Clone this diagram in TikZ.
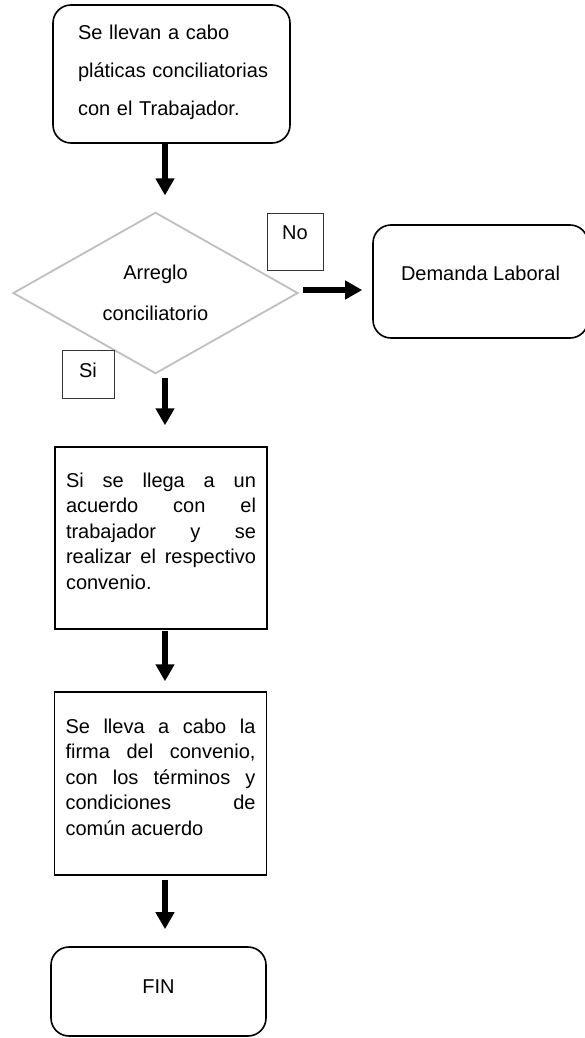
\documentclass[tikz,border=0pt]{standalone}
\usepackage{fontspec}
\setmainfont{Liberation Sans}
\usetikzlibrary{shapes.geometric,arrows.meta}

\begin{document}
\begin{tikzpicture}[
            x=1pt, y=-1pt,
            every node/.style={font=\fontsize{20}{25.5}\selectfont},
            round_box/.style={rectangle, rounded corners=18pt, draw, line width=1.6pt, inner sep=0pt, minimum width=215pt},
            text_box/.style={rectangle, draw, line width=1.4pt, inner xsep=11pt, inner ysep=0pt, text width=190pt, align=justify},
            decision/.style={diamond, draw=gray!50, line width=1.8pt, minimum width=285pt, minimum height=160pt, inner sep=0pt, align=center, font=\fontsize{20}{41}\selectfont},
            answer_box/.style={rectangle, draw=black!80, line width=0.7pt, inner sep=0pt}, % Si / No labels
            big_arrow/.style={-{Triangle[width=18pt,length=17pt]}, line width=5.5pt}
        ]
            \useasboundingbox (0,0) rectangle (585,1038);

            % The steps
            \node[round_box, minimum width=237pt, text width=187pt, align=left, text height=35pt, text depth=103pt, font=\fontsize{20}{38}\selectfont] (talks) at (171.5,74) {Se llevan a cabo\\\mbox{pláticas conciliatorias}\\con el Trabajador.};
            \node[decision] (dec) at (155.5,293) {Arreglo\\conciliatorio};
            \node[answer_box, minimum width=56pt, text height=26pt, text depth=31pt] (no) at (295,241.5) {No};
            \node[answer_box, minimum width=52pt, text height=27pt, text depth=21pt] (si) at (88,374) {Si};
            \node[round_box, text height=55pt, text depth=58pt] (demand) at (480.5,281.5) {Demanda Laboral};
            \node[text_box, text height=40pt, text depth=142pt] (agree) at (161,538) {Si se llega a un\linebreak acuerdo con el\linebreak trabajador y se\linebreak realizar el respectivo\linebreak convenio.};
            \node[text_box, text height=41pt, text depth=142pt] (sign) at (160.5,783.5) {Se lleva a cabo la\linebreak firma del convenio,\linebreak con los términos y\linebreak condiciones de\linebreak común acuerdo};
            \node[round_box, text height=46pt, text depth=43pt] (fin) at (158.5,991.5) {FIN};

            % The arrows
            \coordinate (spine) at (165,0);
            \coordinate (no_exit) at ([yshift=3pt]dec.east);
            \draw[big_arrow, shorten >=16pt] (talks.south -| spine) -- (dec.north -| spine);
            \draw[big_arrow, shorten <=3pt, shorten >=21pt] (dec.south -| spine) -- (agree.north -| spine);
            \draw[big_arrow, shorten <=1pt, shorten >=10pt] (agree.south -| spine) -- (sign.north -| spine);
            \draw[big_arrow, shorten <=4pt, shorten >=17pt] (sign.south -| spine) -- (fin.north -| spine);
            \draw[big_arrow, shorten <=4pt, shorten >=10pt] (no_exit) -- (no_exit -| demand.west);
        \end{tikzpicture}
\end{document}
